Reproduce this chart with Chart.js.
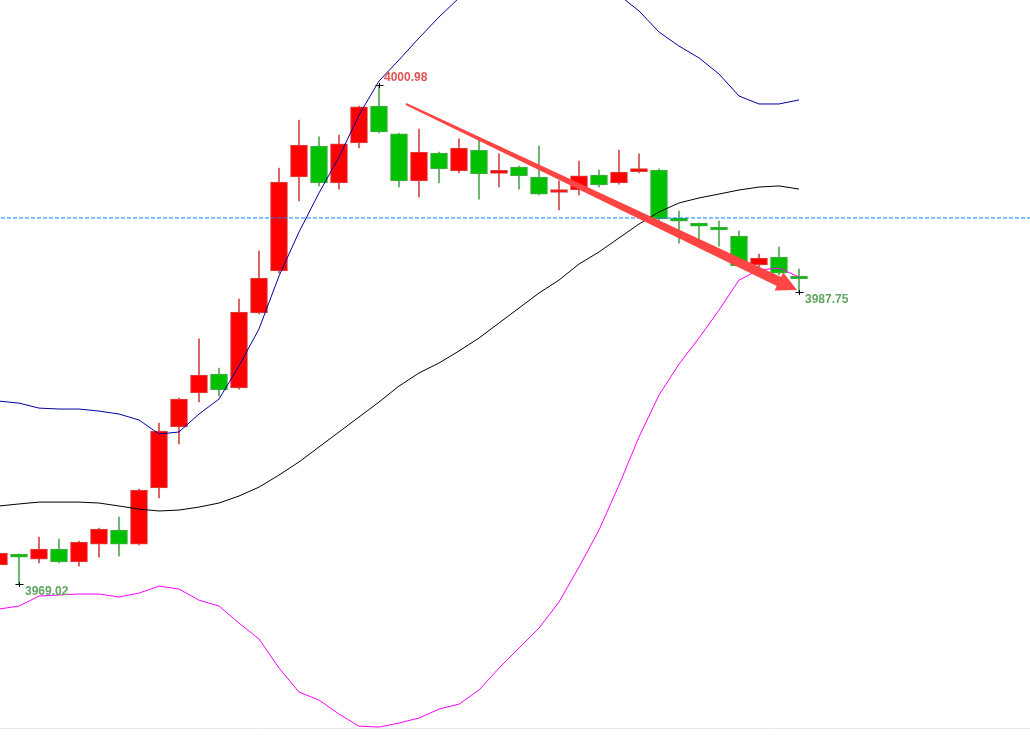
<!DOCTYPE html>
<html>
<head>
<meta charset="utf-8">
<script src="https://cdn.jsdelivr.net/npm/chart.js@4.4.1/dist/chart.umd.min.js"></script>
<style>
  body { margin: 0; background: #fff; }
  canvas { display: block; }
</style>
</head>
<body>
<canvas id="priceChart" width="1030" height="735"></canvas>
<script>
// OHLC per bar, oldest first
const opens = [3970.24, 3970.88, 3970.62, 3971.26, 3970.43, 3971.58, 3972.48, 3971.58, 3975.17, 3979.08,
  3981.26, 3982.47, 3981.58, 3986.38, 3989.07, 3995.09, 3997.08, 3994.71, 3997.27, 3999.64,
  3997.85, 3994.84, 3996.63, 3995.48, 3996.82, 3995.32, 3995.73, 3995.09, 3994.10, 3994.26,
  3995.22, 3994.71, 3995.44, 3995.54, 3992.40, 3992.08, 3991.83, 3991.31, 3989.46, 3989.97, 3988.75];
const highs = [3971.13, 3970.94, 3972.03, 3971.90, 3971.77, 3972.61, 3973.31, 3975.11, 3979.33, 3980.94,
  3984.72, 3982.86, 3987.28, 3990.35, 3995.67, 3998.74, 3997.66, 3997.78, 3999.64, 4000.98,
  3997.91, 3998.17, 3996.69, 3997.53, 3997.46, 3996.57, 3995.80, 3997.08, 3994.84, 3996.12,
  3995.54, 3996.82, 3996.57, 3995.61, 3992.91, 3992.15, 3992.27, 3991.63, 3990.16, 3990.61, 3989.20];
const lows = [3970.11, 3969.02, 3970.37, 3970.37, 3970.17, 3970.75, 3970.81, 3971.52, 3974.53, 3977.99,
  3980.68, 3981.06, 3981.51, 3986.32, 3988.94, 3993.56, 3994.52, 3994.32, 3996.95, 3997.91,
  3994.45, 3993.81, 3994.71, 3995.35, 3993.68, 3994.45, 3994.32, 3993.94, 3992.98, 3993.94,
  3994.45, 3994.64, 3995.35, 3992.27, 3990.86, 3991.12, 3990.67, 3989.33, 3989.33, 3988.82, 3987.75];
const closes = [3971.01, 3970.75, 3971.26, 3970.43, 3971.71, 3972.54, 3971.58, 3975.04, 3978.82, 3980.87,
  3982.41, 3981.45, 3986.44, 3988.62, 3994.77, 3997.14, 3994.71, 3997.21, 3999.58, 3997.98,
  3994.84, 3996.69, 3995.61, 3996.95, 3995.29, 3995.38, 3995.16, 3994.00, 3994.16, 3995.16,
  3994.58, 3995.41, 3995.51, 3992.40, 3992.27, 3991.95, 3991.70, 3989.39, 3989.90, 3988.94, 3988.56];

// Bollinger bands
const upperBand = [3980.74, 3980.61, 3980.29, 3980.23, 3980.23, 3980.10, 3979.91, 3979.53, 3978.63, 3978.76,
  3979.91, 3980.87, 3982.99, 3985.36, 3988.75, 3991.57, 3994.07, 3996.37, 3999.06, 4001.24,
  4002.59, 4004.00, 4005.34, 4006.56, 4007.71, 4008.67, 4009.44, 4009.95, 4010.15, 4009.76,
  4008.67, 4006.75, 4005.73, 4004.38, 4003.48, 4002.72, 4001.69, 4000.28, 3999.77, 3999.77, 4000.03];
const middleBand = [3974.02, 3974.15, 3974.27, 3974.27, 3974.27, 3974.21, 3974.02, 3973.82, 3973.70, 3973.76,
  3973.95, 3974.21, 3974.66, 3975.23, 3976.00, 3976.84, 3977.80, 3978.76, 3979.72, 3980.68,
  3981.70, 3982.54, 3983.18, 3983.95, 3984.78, 3985.74, 3986.70, 3987.66, 3988.49, 3989.52,
  3990.29, 3991.19, 3992.08, 3992.85, 3993.43, 3993.75, 3994.00, 3994.26, 3994.45, 3994.52, 3994.32];
const lowerBand = [3967.42, 3967.61, 3968.25, 3968.32, 3968.38, 3968.38, 3968.19, 3968.44, 3968.89, 3968.70,
  3967.99, 3967.61, 3966.52, 3965.50, 3963.64, 3962.10, 3961.59, 3960.69, 3959.92, 3959.86,
  3960.12, 3960.44, 3961.01, 3961.33, 3962.23, 3963.64, 3964.92, 3966.20, 3967.87, 3970.11,
  3972.48, 3975.36, 3978.44, 3981.13, 3983.11, 3984.78, 3986.57, 3988.49, 3989.14, 3989.26, 3988.69];

const levelLine = 3992.47;
// trend arrow: [bar index, price]
const arrowFrom = [20.35, 3999.77];
const arrowTo = [39.9, 3987.85];

const upFill = '#ff0000', upLine = '#d44848';
const downFill = '#00c000', downLine = '#52a852';

const idx = opens.map((_, i) => i);
const isUp = i => closes[i] >= opens[i];
const byDir = (a, b) => idx.map(i => isUp(i) ? a : b);
const asPoints = arr => arr.map((v, i) => ({ x: i, y: v }));

const markerPlugin = {
  id: 'markers',
  afterDatasetsDraw(chart) {
    const { ctx, chartArea, scales: { x, y } } = chart;
    ctx.save();

    // frame at the bottom
    ctx.strokeStyle = '#e6eaea';
    ctx.lineWidth = 1;
    ctx.beginPath();
    ctx.moveTo(chartArea.left, chartArea.bottom + 0.5);
    ctx.lineTo(chartArea.right, chartArea.bottom + 0.5);
    ctx.stroke();

    // tapered arrow
    const x0 = x.getPixelForValue(arrowFrom[0]), y0 = y.getPixelForValue(arrowFrom[1]);
    const x1 = x.getPixelForValue(arrowTo[0]), y1 = y.getPixelForValue(arrowTo[1]);
    const len = Math.hypot(x1 - x0, y1 - y0);
    const ux = (x1 - x0) / len, uy = (y1 - y0) / len;
    const nx = -uy, ny = ux;
    const headLen = 20, headHalf = 10, w0 = 1, w1 = 5;
    const bx = x1 - ux * headLen, by = y1 - uy * headLen;
    ctx.fillStyle = '#ff4444';
    ctx.beginPath();
    ctx.moveTo(x0 + nx * w0, y0 + ny * w0);
    ctx.lineTo(bx + nx * w1, by + ny * w1);
    ctx.lineTo(bx + nx * headHalf, by + ny * headHalf);
    ctx.lineTo(x1, y1);
    ctx.lineTo(bx - nx * headHalf, by - ny * headHalf);
    ctx.lineTo(bx - nx * w1, by - ny * w1);
    ctx.lineTo(x0 - nx * w0, y0 - ny * w0);
    ctx.closePath();
    ctx.fill();

    // high / low marks
    const cross = (px, py) => {
      ctx.strokeStyle = '#000';
      ctx.lineWidth = 1;
      ctx.beginPath();
      ctx.moveTo(Math.round(px) - 3.5, Math.round(py) + 0.5);
      ctx.lineTo(Math.round(px) + 4.5, Math.round(py) + 0.5);
      ctx.moveTo(Math.round(px) + 0.5, Math.round(py) - 2);
      ctx.lineTo(Math.round(px) + 0.5, Math.round(py) + 3);
      ctx.stroke();
    };
    const hi = highs.indexOf(Math.max(...highs));
    const lo = lows.indexOf(Math.min(...lows));
    const last = lows.length - 1;

    ctx.font = 'bold 12px "Liberation Sans", Arial, sans-serif';
    ctx.textBaseline = 'middle';
    ctx.textAlign = 'left';

    let px = x.getPixelForValue(hi), py = y.getPixelForValue(highs[hi]);
    cross(px, py);
    ctx.fillStyle = '#e05555';
    ctx.fillText(highs[hi].toFixed(2), px + 5, py - 7);

    [lo, last].forEach(i => {
      px = x.getPixelForValue(i);
      py = y.getPixelForValue(lows[i]);
      cross(px, py);
      ctx.fillStyle = '#62a562';
      ctx.fillText(lows[i].toFixed(2), px + 6, py + 8);
    });

    ctx.restore();
  }
};

new Chart(document.getElementById('priceChart'), {
  type: 'bar',
  data: {
    datasets: [
      {
        type: 'line',
        data: [{ x: -2, y: levelLine }, { x: 60, y: levelLine }],
        borderColor: '#0a84ff',
        borderWidth: 1,
        borderDash: [4, 2],
        pointRadius: 0,
        order: 0,
      },
      {
        type: 'line',
        data: asPoints(upperBand),
        borderColor: '#00009c',
        borderWidth: 1,
        pointRadius: 0,
        order: 1,
      },
      {
        type: 'line',
        data: asPoints(middleBand),
        borderColor: '#000000',
        borderWidth: 1,
        pointRadius: 0,
        order: 1,
      },
      {
        type: 'line',
        data: asPoints(lowerBand),
        borderColor: '#ff00ff',
        borderWidth: 1,
        pointRadius: 0,
        order: 1,
      },
      {
        data: idx.map(i => ({ x: i, y: [opens[i], closes[i]] })),
        backgroundColor: byDir(upFill, downFill),
        borderColor: byDir(upLine, downLine),
        borderWidth: 1,
        borderSkipped: false,
        barThickness: 17,
        minBarLength: 3,
        grouped: false,
        order: 2,
      },
      {
        data: idx.map(i => ({ x: i, y: [lows[i], highs[i]] })),
        backgroundColor: byDir(upLine, downLine),
        borderWidth: 0,
        barThickness: 1,
        grouped: false,
        order: 3,
      },
    ]
  },
  options: {
    responsive: false,
    animation: false,
    layout: {
      padding: { left: 0, right: 0, top: 0, bottom: 7 }
    },
    scales: {
      x: {
        type: 'linear',
        display: false,
        offset: false,
        min: 0.05,
        max: 51.55,
      },
      y: {
        display: false,
        min: 3959.80,
        max: 4006.43,
      }
    },
    plugins: {
      legend: { display: false },
      tooltip: { enabled: false },
    }
  },
  plugins: [markerPlugin]
});
</script>
</body>
</html>
